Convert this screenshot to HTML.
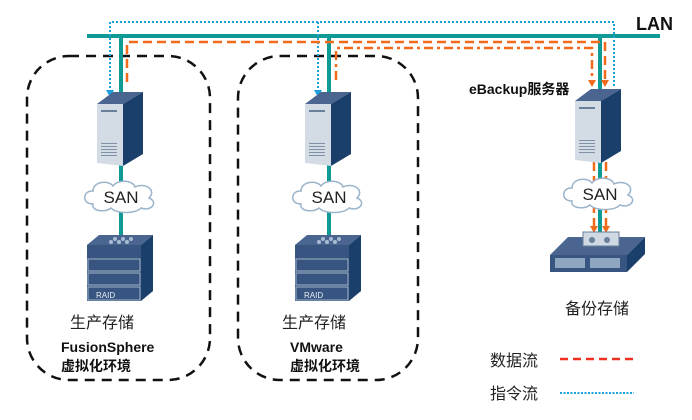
<!DOCTYPE html><html><head><meta charset="utf-8"><style>body{margin:0;background:#fff}svg{display:block}text{font-family:"Liberation Sans","Noto Sans CJK SC",sans-serif}</style></head><body>
<svg width="692" height="420" viewBox="0 0 692 420">
<defs>
<g id="srv"><polygon points="0,16 26,16 26,78 0,75" fill="#d3dbe5"/><polygon points="0,16 16,4 46,4 26,16" fill="#4a6690"/><polygon points="26,16 46,4 46,66 26,78" fill="#1b3f6b"/><rect x="4" y="22" width="16" height="2" fill="#6a7f9a"/><g fill="#8090a8"><rect x="4" y="55" width="16" height="1"/><rect x="4" y="58" width="16" height="1"/><rect x="4" y="61" width="16" height="1"/><rect x="4" y="64" width="16" height="1"/><rect x="4" y="67" width="16" height="1"/></g></g>
<g id="cloud"><path d="M-28,8 C-40,8 -38,-6 -28,-5 C-28,-15 -12,-16 -8,-10 C-3,-17 12,-16 14,-9 C24,-14 36,-6 28,2 C38,6 30,16 20,12 C14,18 -4,18 -10,12 C-16,17 -30,15 -28,8 Z" fill="#fff" stroke="#9ab4cc" stroke-width="1.5"/><text x="0" y="7" font-size="17" text-anchor="middle" fill="#222">SAN</text></g>
<g id="raid"><polygon points="0,10 12,0 66,0 54,10" fill="#4a6690"/><polygon points="54,10 66,0 66,56 54,66" fill="#1b3f6b"/><rect x="0" y="10" width="54" height="56" fill="#375580"/><g stroke="#9fb2c8" stroke-width="1" fill="none"><rect x="1" y="24" width="52" height="12"/><rect x="1" y="38" width="52" height="12"/><rect x="1" y="52" width="52" height="13"/></g><text x="9" y="63" font-size="8" fill="#e8eef5">RAID</text><g fill="#a8bcd2"><circle cx="28" cy="4" r="2"/><circle cx="36" cy="4" r="2"/><circle cx="44" cy="4" r="2"/><circle cx="24" cy="7" r="2"/><circle cx="32" cy="7" r="2"/><circle cx="40" cy="7" r="2"/></g></g>
</defs>
<rect x="27" y="56" width="183" height="324" rx="42" fill="none" stroke="#111" stroke-width="2.5" stroke-dasharray="10,7"/>
<rect x="238" y="56" width="180" height="324" rx="42" fill="none" stroke="#111" stroke-width="2.5" stroke-dasharray="10,7"/>
<g stroke="#0f9a96" stroke-width="4"><line x1="87" y1="36" x2="660" y2="36"/><line x1="121" y1="36" x2="121" y2="240"/><line x1="329" y1="36" x2="329" y2="240"/><line x1="600" y1="36" x2="600" y2="235"/></g>
<g stroke="#1aa0dc" stroke-width="2" stroke-dasharray="2,2" fill="none"><polyline points="110,92 110,22 614,22 614,88"/><line x1="318" y1="22" x2="318" y2="92"/></g>
<g fill="#1aa0dc"><path d="M106,90 L114,90 L110,97Z"/><path d="M314,90 L322,90 L318,97Z"/></g>
<g stroke="#f26b1d" stroke-width="2.5" fill="none"><polyline points="127,82 127,42 605,42 605,82" stroke-dasharray="9,5"/><polyline points="336,80 336,48 592,48 592,82" stroke-dasharray="9,4,3,4"/><line x1="594" y1="162" x2="594" y2="228" stroke-dasharray="9,5"/><line x1="606" y1="162" x2="606" y2="228" stroke-dasharray="9,5"/></g>
<g fill="#f26b1d"><path d="M588,80 L596,80 L592,87Z"/><path d="M601,80 L609,80 L605,87Z"/><path d="M590,226 L598,226 L594,233Z"/><path d="M602,226 L610,226 L606,233Z"/></g>
<use href="#srv" x="97" y="88"/><use href="#srv" x="305" y="88"/><use href="#srv" x="575" y="85"/>
<use href="#cloud" x="121" y="196"/><use href="#cloud" x="329" y="196"/><use href="#cloud" x="600" y="193"/>
<use href="#raid" x="87" y="235"/><use href="#raid" x="295" y="235"/>
<polygon points="550,255 568,237 645,237 627,255" fill="#4a6690"/><rect x="550" y="255" width="77" height="17" fill="#375580"/><polygon points="627,255 645,237 645,254 627,272" fill="#1b3f6b"/><rect x="555" y="258" width="30" height="10" fill="#8fa6c0"/><rect x="590" y="258" width="30" height="10" fill="#8fa6c0"/><rect x="583" y="232" width="36" height="14" fill="#cfd9e4" stroke="#6a7f9a"/><circle cx="592" cy="240" r="3" fill="#6a7f9a"/><circle cx="607" cy="240" r="3" fill="#6a7f9a"/>
<text x="636" y="30" font-size="18" font-weight="bold" fill="#111">LAN</text>
<text x="469" y="94" font-size="14" font-weight="bold" fill="#111">eBackup服务器</text>
<text x="70" y="328" font-size="16" fill="#222">生产存储</text>
<text x="282" y="328" font-size="16" fill="#222">生产存储</text>
<text x="565" y="314" font-size="16" fill="#222">备份存储</text>
<text x="61" y="352" font-size="14" font-weight="bold" fill="#111">FusionSphere</text>
<text x="61" y="371" font-size="14" font-weight="bold" fill="#111">虚拟化环境</text>
<text x="290" y="352" font-size="14" font-weight="bold" fill="#111">VMware</text>
<text x="290" y="371" font-size="14" font-weight="bold" fill="#111">虚拟化环境</text>
<text x="490" y="366" font-size="16" fill="#222">数据流</text>
<text x="490" y="399" font-size="16" fill="#222">指令流</text>
<line x1="560" y1="359" x2="634" y2="359" stroke="#f03020" stroke-width="2.5" stroke-dasharray="8,5"/>
<line x1="560" y1="393" x2="634" y2="393" stroke="#1aa0dc" stroke-width="2" stroke-dasharray="2,1.5"/>
</svg></body></html>
